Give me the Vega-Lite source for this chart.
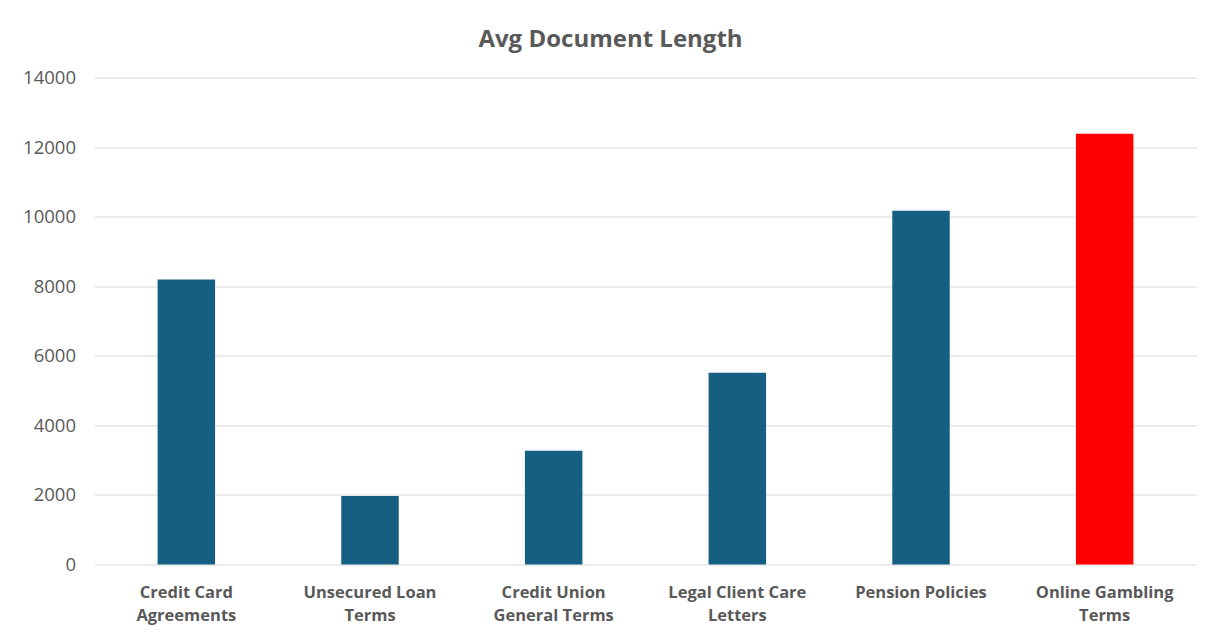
{
  "$schema": "https://vega.github.io/schema/vega-lite/v6.json",
  "width": 1102,
  "height": 487,
  "autosize": {"type": "none"},
  "padding": {"left": 94.5, "top": 77.5, "right": 12.5, "bottom": 70.5},
  "background": "white",
  "title": {
    "text": "Avg Document Length",
    "font": "Open Sans",
    "fontSize": 24,
    "fontWeight": "bold",
    "color": "#595959",
    "anchor": "middle",
    "baseline": "alphabetic",
    "offset": -2,
    "dx": -35
  },
  "config": {"view": {"stroke": null}},
  "data": {
    "values": [
      {"category": "Credit Card Agreements", "label": "Credit Card|Agreements", "value": 8190},
      {"category": "Unsecured Loan Terms", "label": "Unsecured Loan|Terms", "value": 1970},
      {"category": "Credit Union General Terms", "label": "Credit Union|General Terms", "value": 3270},
      {"category": "Legal Client Care Letters", "label": "Legal Client Care|Letters", "value": 5510},
      {"category": "Pension Policies", "label": "Pension Policies", "value": 10170},
      {"category": "Online Gambling Terms", "label": "Online Gambling|Terms", "value": 12380}
    ]
  },
  "mark": {"type": "bar"},
  "encoding": {
    "x": {
      "field": "label",
      "type": "nominal",
      "sort": null,
      "scale": {"paddingInner": 0.687, "paddingOuter": 0.3435},
      "axis": {
        "title": null,
        "labelAngle": 0,
        "labelExpr": "split(datum.label, '|')",
        "labelFont": "Open Sans",
        "labelFontSize": 16.5,
        "labelFontWeight": "bold",
        "labelColor": "#595959",
        "labelPadding": 20,
        "labelLineHeight": 23,
        "ticks": false,
        "domain": false,
        "grid": false
      }
    },
    "y": {
      "field": "value",
      "type": "quantitative",
      "scale": {"domain": [0, 14000], "nice": false},
      "axis": {
        "title": null,
        "values": [0, 2000, 4000, 6000, 8000, 10000, 12000, 14000],
        "format": "d",
        "labelFont": "Open Sans",
        "labelFontSize": 18.5,
        "labelColor": "#595959",
        "labelPadding": 19,
        "ticks": false,
        "domain": false,
        "grid": true,
        "gridColor": "#d9d9d9",
        "gridWidth": 1
      }
    },
    "color": {
      "condition": {"test": "datum.category === 'Online Gambling Terms'", "value": "#FF0000"},
      "value": "#156082"
    }
  }
}
